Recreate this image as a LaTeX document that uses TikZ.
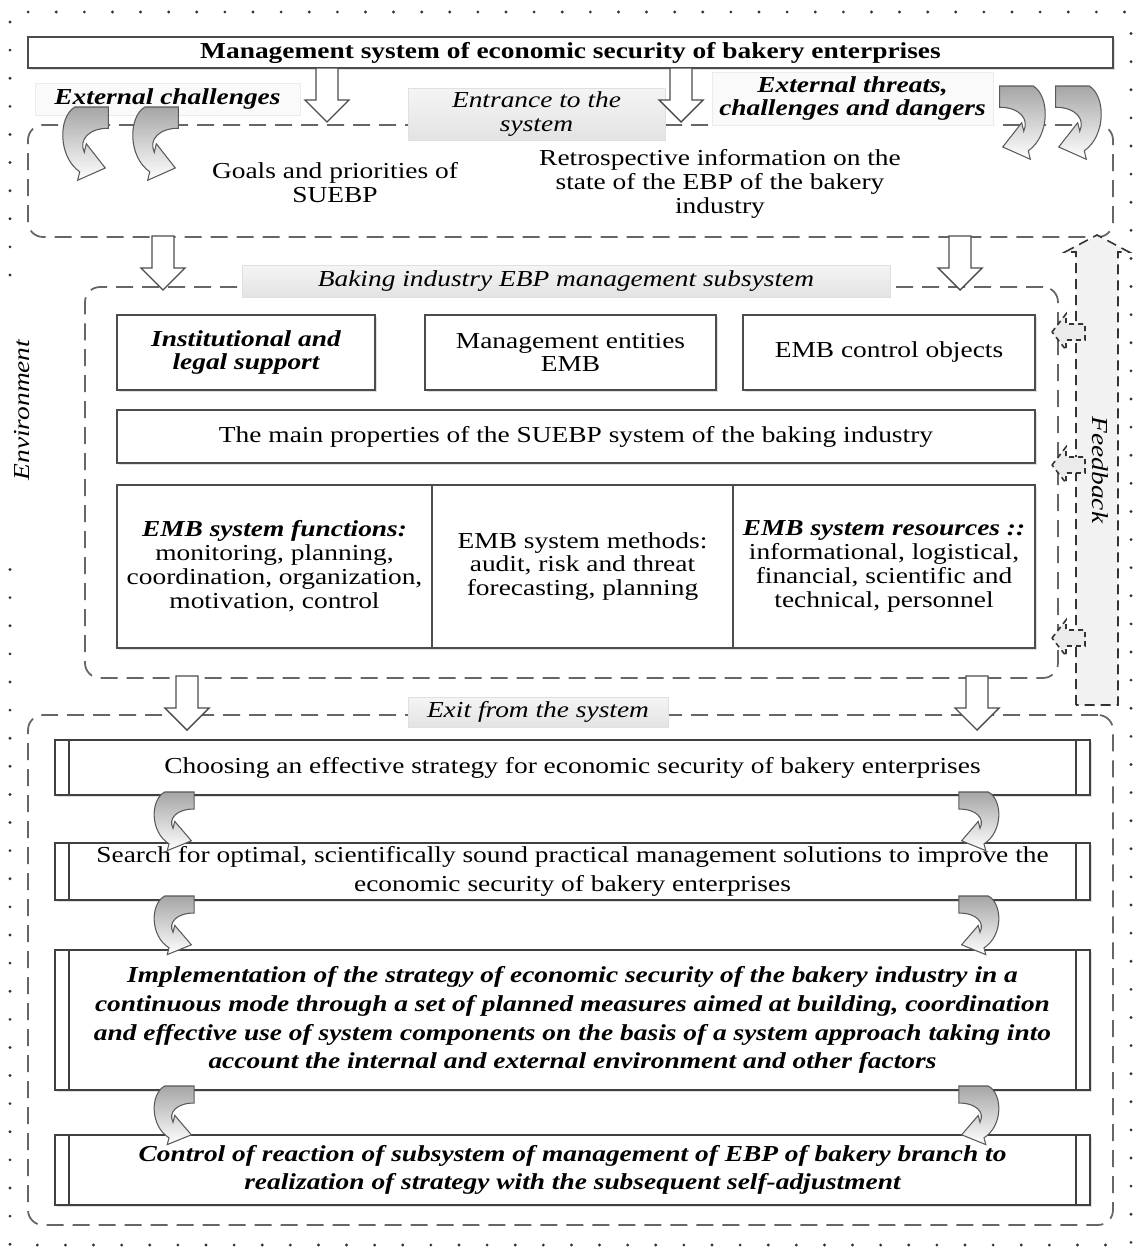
\documentclass[tikz,border=0pt]{standalone}
\usepackage{fontspec}
\setmainfont{Liberation Serif}[FakeStretch=1.2]
\usepackage{tikz}
\usetikzlibrary{positioning,fit,calc,shadows}

\newcommand{\diagfont}{\fontsize{13}{13.6}\selectfont}
\newcommand{\procfont}{\fontsize{13}{16.4}\selectfont}

\begin{document}
\begin{tikzpicture}[
        x=0.02cm, y=-0.02cm,
        font=\diagfont,
        plain/.style={
            align=center,
            inner sep=1pt
        },
        txt/.style={label={[plain]center:{#1}}},
        btxt/.style={label={[plain, font=\diagfont\bfseries]center:{#1}}},
        itxt/.style={label={[plain, font=\diagfont\itshape]center:{#1}}},
        bitxt/.style={label={[plain, font=\diagfont\bfseries\itshape]center:{#1}}},
        ptxt/.style={label={[plain, font=\procfont]center:{#1}}},
        pbitxt/.style={label={[plain, font=\procfont\bfseries\itshape]center:{#1}}},
        box/.style={
            draw=black!70,
            line width=0.8pt,
            fill=white,
            inner sep=0pt,
            drop shadow={shadow xshift=1pt, shadow yshift=-1pt, opacity=0.25}
        },
        procbox/.style={
            box,
            line width=1.1pt,
            draw=black!75
        },
        sideline/.style={
            draw=black!75,
            line width=1.1pt
        },
        dashbox/.style={
            draw=black!60,
            line width=1pt,
            dash pattern=on 0.34cm off 0.18cm,
            rounded corners=0.3cm,
            inner sep=0pt
        },
        tag/.style={
            draw=black!12,
            top color=black!4,
            bottom color=black!11,
            inner sep=0pt
        },
        note/.style={
            draw=black!8,
            fill=black!2,
            inner sep=0pt
        },
        blockarr/.style={
            draw=black!70,
            line width=0.8pt,
            fill=white
        },
        curlfill/.style={
            draw=black!65,
            line width=0.6pt,
            top color=black!35,
            middle color=white,
            bottom color=white
        },
        dotframe/.style={
            draw=black!80,
            line width=1.8pt,
            line cap=round,
            dash pattern=on 0pt off 16pt
        },
        fbline/.style={
            draw=black!80,
            line width=0.9pt,
            dash pattern=on 0.2cm off 0.12cm
        },
        downarr/.pic={
            \path[blockarr] (-11,0) -- (-11,32) -- (-22,32) -- (0,54)
                -- (22,32) -- (11,32) -- (11,0) -- cycle;
        },
        curl/.pic={
            \path[curlfill] (14,0) -- (42,0) -- (42,17)
                .. controls (26,17) and (17,26) .. (21.9,36.2)
                -- (23.6,29.4) -- (39.4,48.8) -- (16.4,58.6) -- (18.1,51.8)
                .. controls (0,40) and (0,8) .. (14,0) -- cycle;
        },
        fbtip/.pic={
            \path[fbline, dash pattern=on 0.1cm off 0.08cm, fill=black!8]
                (0,0) -- (14,-18) -- (14,-8) -- (33,-8) -- (33,8)
                -- (14,8) -- (14,18) -- cycle;
        }
    ]
    \useasboundingbox (0,0) rectangle (1136,1254);

    % outer environment frame
    \draw[dotframe] (10,275) -- (10,12) -- (1131,12) -- (1131,1245) -- (10,1245) -- (10,555);
    \node[rotate=90, font=\diagfont\itshape] (env) at (22,410) {Environment};

    % =========================
    % Input
    % =========================
    \node[box, fit={(28,37) (1113,68)},
        btxt={Management system of economic security of bakery enterprises}] (title) {};

    \node[dashbox, fit={(28,125) (1113,237)}] (topzone) {};

    \node[note, fit={(35,83) (300,115)}, bitxt={External challenges}] (extch) {};
    \node[tag, fit={(408,88) (665,140)}, itxt={Entrance to the\\system}] (entrance) {};
    \node[note, fit={(712,72) (993,125)}, bitxt={External threats,\\challenges and dangers}] (threats) {};

    \node[plain] (goals) at (335,183) {Goals and priorities of\\SUEBP};
    \node[plain] (retro) at (720,184) {Retrospective information on the\\state of the EBP of the bakery\\industry};

    \pic at (327,68) {downarr};
    \pic at (681,68) {downarr};
    \pic[xscale=1.2, yscale=1.25] at (58,107) {curl};
    \pic[xscale=1.2, yscale=1.25] at (128,107) {curl};
    \pic[xscale=-1.2, yscale=1.25] at (1050,86) {curl};
    \pic[xscale=-1.2, yscale=1.25] at (1106,86) {curl};

    % =========================
    % Management subsystem
    % =========================
    \node[dashbox, fit={(85,287) (1058,678)}] (subzone) {};
    \node[tag, fit={(242,265) (890,297)},
        itxt={Baking industry EBP management subsystem}] (subtag) {};

    \pic at (163,236) {downarr};
    \pic at (960,236) {downarr};

    \node[box, fit={(117,315) (375,390)}, bitxt={Institutional and\\legal support}] (inst) {};
    \node[box, fit={(425,315) (716,390)}, txt={Management entities\\EMB}] (entities) {};
    \node[box, fit={(743,315) (1035,390)}, txt={EMB control objects}] (objects) {};

    \node[box, fit={(117,410) (1035,463)},
        txt={The main properties of the SUEBP system of the baking industry}] (props) {};

    \node[box, fit={(117,485) (432,648)},
        txt={\textbf{\textit{EMB system functions:}}\\monitoring, planning,\\coordination, organization,\\motivation, control}] (functions) {};
    \node[box, fit={(432,485) (733,648)},
        txt={EMB system methods:\\audit, risk and threat\\forecasting, planning}] (methods) {};
    \node[box, fit={(733,485) (1035,648)},
        txt={\textbf{\textit{EMB system resources ::}}\\informational, logistical,\\financial, scientific and\\technical, personnel}] (resources) {};

    % feedback
    \path[fbline, fill=black!5] (1076,705) -- (1076,252) -- (1065,252) -- (1097,235)
        -- (1129,252) -- (1118,252) -- (1118,705) -- cycle;
    \node[rotate=-90, font=\diagfont\itshape] (feedback) at (1100,470) {Feedback};
    \foreach \y in {332,465,638}
        \pic at (1052,\y) {fbtip};

    % =========================
    % Output
    % =========================
    \node[dashbox, fit={(28,715) (1113,1225)}] (exitzone) {};
    \node[tag, fit={(408,697) (668,727)}, itxt={Exit from the system}] (exittag) {};

    \pic at (187,676) {downarr};
    \pic at (977,676) {downarr};

    \node[procbox, fit={(55,740) (1090,795)},
        ptxt={Choosing an effective strategy for economic security of bakery enterprises}] (choose) {};
    \node[procbox, fit={(55,843) (1090,900)},
        ptxt={Search for optimal, scientifically sound practical management solutions to improve the\\economic security of bakery enterprises}] (search) {};
    \node[procbox, fit={(55,950) (1090,1090)},
        pbitxt={Implementation of the strategy of economic security of the bakery industry in a\\continuous mode through a set of planned measures aimed at building, coordination\\and effective use of system components on the basis of a system approach taking into\\account the internal and external environment and other factors}] (implement) {};
    \node[procbox, fit={(55,1135) (1090,1205)},
        pbitxt={Control of reaction of subsystem of management of EBP of bakery branch to\\realization of strategy with the subsequent self-adjustment}] (control) {};

    \foreach \p in {choose,search,implement,control} {
        \draw[sideline] ([xshift=0.3cm]\p.north west) -- ([xshift=0.3cm]\p.south west);
        \draw[sideline] ([xshift=-0.3cm]\p.north east) -- ([xshift=-0.3cm]\p.south east);
    }

    \foreach \y in {792,896,1086} {
        \pic[xscale=1.05] at (150,\y) {curl};
        \pic[xscale=-1.05] at (1003,\y) {curl};
    }

\end{tikzpicture}
\end{document}
